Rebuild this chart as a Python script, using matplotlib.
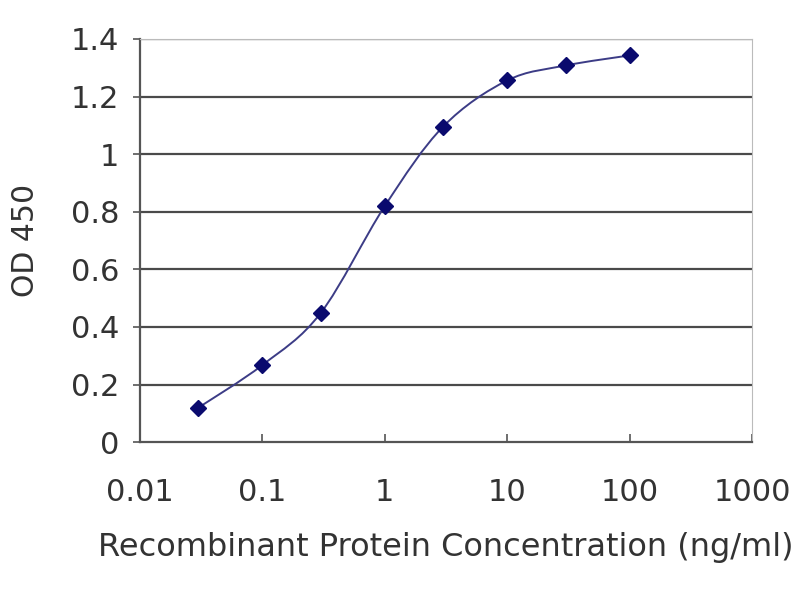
import numpy as np
import matplotlib
matplotlib.use('Agg')
import matplotlib.pyplot as plt
from matplotlib.path import Path
from matplotlib.patches import PathPatch

conc = [0.03, 0.1, 0.3, 1, 3, 10, 30, 100]
od450 = [0.12, 0.268, 0.449, 0.82, 1.096, 1.256, 1.308, 1.343]
xticks = [0.01, 0.1, 1, 10, 100, 1000]
xtick_labels = ['0.01', '0.1', '1', '10', '100', '1000']
yticks = [0, 0.2, 0.4, 0.6, 0.8, 1, 1.2, 1.4]
ytick_labels = ['0', '0.2', '0.4', '0.6', '0.8', '1', '1.2', '1.4']

plt.rcParams['font.family'] = ['DejaVu Sans']
navy = '#0a0a6e'

fig = plt.figure(figsize=(8, 6), dpi=100)
ax = fig.add_axes([0.175, 0.263, 0.765, 0.672])
ax.set_xscale('log')
ax.set_xlim(0.01, 1000)
ax.set_ylim(0, 1.4)

# smoothed line (excel style bezier, built in log-x space)
lx = np.log10(conc)
yy = np.array(od450)
verts = [(conc[0], od450[0])]
codes = [Path.MOVETO]
n = len(lx)
for i in range(n - 1):
    p0 = (lx[max(i - 1, 0)], yy[max(i - 1, 0)])
    p1 = (lx[i], yy[i])
    p2 = (lx[i + 1], yy[i + 1])
    p3 = (lx[min(i + 2, n - 1)], yy[min(i + 2, n - 1)])
    c1 = (p1[0] + (p2[0] - p0[0]) / 6, p1[1] + (p2[1] - p0[1]) / 6)
    c2 = (p2[0] - (p3[0] - p1[0]) / 6, p2[1] - (p3[1] - p1[1]) / 6)
    for c in (c1, c2, p2):
        verts.append((10 ** c[0], c[1]))
        codes.append(Path.CURVE4)
ax.add_patch(PathPatch(Path(verts, codes), facecolor='none', edgecolor='#3c3c86', lw=1.4, zorder=3))
ax.plot(conc, od450, linestyle='none', marker='D', markersize=8, color=navy, zorder=4)

for v in yticks[1:]:
    ax.axhline(v, color='#4a4a4a', lw=1.6, zorder=1)

ax.spines['left'].set_color('#555555')
ax.spines['bottom'].set_color('#555555')
ax.spines['left'].set_linewidth(1.6)
ax.spines['bottom'].set_linewidth(1.6)
ax.spines['top'].set_color('#bbbbbb')
ax.spines['right'].set_color('#bbbbbb')

ax.set_xticks(xticks)
ax.set_xticklabels(xtick_labels)
ax.xaxis.set_minor_locator(matplotlib.ticker.NullLocator())
ax.set_yticks(yticks)
ax.set_yticklabels(ytick_labels)
ax.tick_params(axis='x', direction='in', length=6, width=1.2, color='#555555', labelsize=22, labelcolor='#333333', pad=26)
ax.tick_params(axis='y', direction='out', length=5, width=1.2, color='#555555', labelsize=22, labelcolor='#333333', pad=10)

ax.set_xlabel('Recombinant Protein Concentration (ng/ml)', fontsize=23, color='#333333', labelpad=18)
ax.set_ylabel('OD 450', fontsize=21.5, color='#333333', labelpad=22)

fig.savefig('out.png', dpi=100)
